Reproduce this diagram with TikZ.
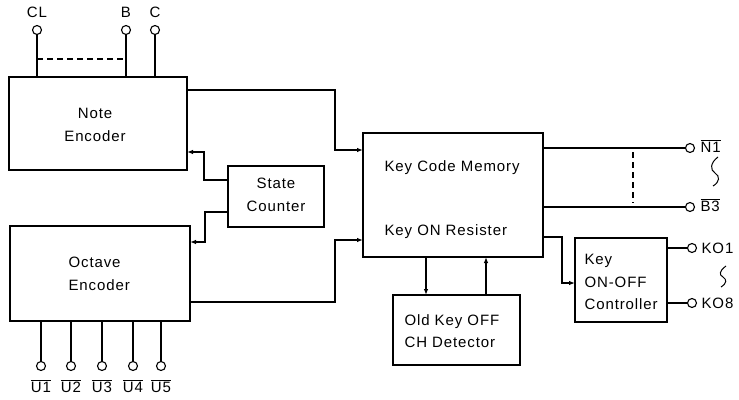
\documentclass[tikz,border=0pt]{standalone}
\usepackage{fontspec}
\setmainfont{Liberation Sans}[LetterSpace=6]
\usetikzlibrary{arrows.meta}
\begin{document}
\begin{tikzpicture}[x=1pt,y=-1pt,
  every path/.style={line width=1.1pt},
  box/.style={draw,line width=1.2pt,anchor=north west,inner sep=0pt,outer sep=0pt},
  pin/.style={draw,line width=1.1pt,circle,fill=white,minimum size=9pt,inner sep=0pt,outer sep=0pt},
  lbl/.style={font=\fontsize{15}{17}\selectfont,inner sep=0pt},
  txt/.style={font=\fontsize{15}{22.5}\selectfont,inner sep=0pt},
  arr/.style={-{Latex[length=6pt,width=4.5pt]}},
  squig/.style={line width=1pt}]
\useasboundingbox (0,0) rectangle (739,399);
% boxes
\node[box,minimum width=178pt,minimum height=93pt] (ne) at (9,77) {};
\node[txt,align=center] (netxt) at (95,125) {Note\\Encoder};
\node[box,minimum width=180pt,minimum height=95pt] (oe) at (10,226) {};
\node[txt,align=left,anchor=west] (oetxt) at (68,274) {Octave\\Encoder};
\node[box,minimum width=96pt,minimum height=61pt] (sc) at (228,166) {};
\node[txt,align=center] (sctxt) at (276,195) {State\\Counter};
\node[box,minimum width=180pt,minimum height=124pt] (kcm) at (363,133) {};
\node[txt,anchor=base west] (kcm1) at (384,171) {Key Code Memory};
\node[txt,anchor=base west] (kcm2) at (384,235) {Key ON Resister};
\node[box,minimum width=127pt,minimum height=70pt] (det) at (393,295) {};
\node[txt,align=left,anchor=west] (dettxt) at (404,331) {Old Key OFF\\CH Detector};
\node[box,minimum width=92pt,minimum height=84pt] (ctl) at (575,238) {};
\node[txt,align=left,anchor=west] (ctltxt) at (584,282) {Key\\ON-OFF\\Controller};
% top pins
\node[pin] (cl) at (37,30) {};
\node[pin] (b) at (126,30) {};
\node[pin] (c) at (155,30) {};
\node[lbl] (cll) at (37,12) {CL};
\node[lbl] (bl) at (126,12) {B};
\node[lbl] (cl2) at (155,12) {C};
\draw (cl) -- (cl |- ne.north);
\draw (b) -- (b |- ne.north);
\draw (c) -- (c |- ne.north);
\coordinate (dl) at (37,59);
\coordinate (dr) at (126,59);
\draw[dashed,dash pattern=on 6pt off 4pt] (dl) -- (dr);
% bottom pins
\foreach \i/\x in {1/41,2/71,3/102,4/133,5/161}{
  \node[pin] (u\i) at (\x,366) {};
  \draw (u\i) -- (u\i |- oe.south);
  \node[lbl] (ul\i) at (\x,386) {$\overline{\mbox{U\i}}$};
}
% encoder -> KCM
\coordinate (a1) at (335,90);
\coordinate (a2) at (335,150);
\draw[arr] (ne.east |- a1) -- (a1) -- (a2) -- (kcm.west |- a2);
\coordinate (b1) at (335,302);
\coordinate (b2) at (335,240);
\draw[arr] (oe.east |- b1) -- (b1) -- (b2) -- (kcm.west |- b2);
% state counter -> encoders
\coordinate (s1) at (204,180);
\coordinate (s2) at (204,152);
\draw[arr] (sc.west |- s1) -- (s1) -- (s2) -- (ne.east |- s2);
\coordinate (t1) at (205,212);
\coordinate (t2) at (205,242);
\draw[arr] (sc.west |- t1) -- (t1) -- (t2) -- (oe.east |- t2);
% KCM <-> detector
\coordinate (d1) at (426,0);
\coordinate (d2) at (486,0);
\draw[arr] (kcm.south -| d1) -- (det.north -| d1);
\draw[arr] (det.north -| d2) -- (kcm.south -| d2);
% KCM -> controller
\coordinate (k1) at (562,237);
\coordinate (k2) at (562,283);
\draw[arr] (kcm.east |- k1) -- (k1) -- (k2) -- (ctl.west |- k2);
% outputs
\node[pin] (n1) at (690,148) {};
\node[pin] (b3) at (690,207) {};
\draw (kcm.east |- n1) -- (n1);
\draw (kcm.east |- b3) -- (b3);
\coordinate (v1) at (633,152);
\coordinate (v2) at (633,203);
\draw[dashed,dash pattern=on 6pt off 4pt] (v1) -- (v2);
\node[lbl,anchor=west] (n1l) at (700,146) {$\overline{\mbox{N1}}$};
\node[lbl,anchor=west] (b3l) at (700,205) {$\overline{\mbox{B3}}$};
\draw[squig] (718,157) .. controls (710,163) and (710,170) .. (715,173) .. controls (720,176) and (720,182) .. (713,186);
\node[pin] (ko1) at (692,248) {};
\node[pin] (ko8) at (692,303) {};
\draw (ctl.east |- ko1) -- (ko1);
\draw (ctl.east |- ko8) -- (ko8);
\node[lbl,anchor=west] (ko1l) at (701,248) {KO1};
\node[lbl,anchor=west] (ko8l) at (701,303) {KO8};
\draw[squig] (726,266) .. controls (719,271) and (719,275) .. (723,277) .. controls (727,280) and (727,283) .. (721,287);
\end{tikzpicture}
\end{document}
